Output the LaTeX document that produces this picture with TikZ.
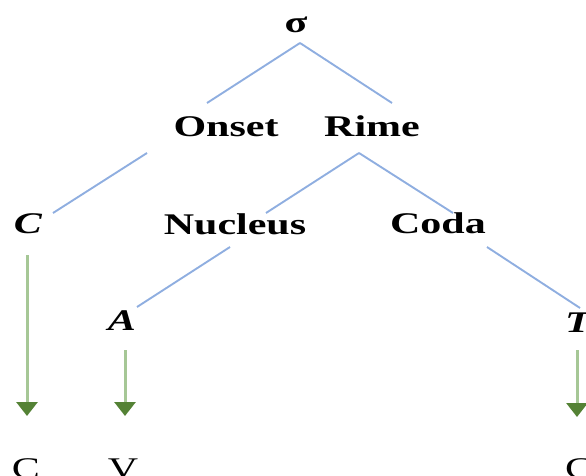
\documentclass[tikz,border=0pt]{standalone}
\usepackage{fontspec}
\usetikzlibrary{arrows.meta}
\newfontfamily\treefont{Liberation Serif}[FakeStretch=1.4]
\definecolor{branch}{HTML}{8FAEE0}
\definecolor{shaft}{HTML}{A6C796}
\definecolor{headgreen}{HTML}{548235}
\tikzset{
  lbl/.style={anchor=base, inner sep=0pt, font=\treefont\fontsize{30}{36}\selectfont\bfseries},
  seg/.style={anchor=base, inner sep=0pt, font=\treefont\fontsize{30}{36}\selectfont\bfseries\itshape},
  cvlabel/.style={anchor=base, inner sep=0pt, font=\treefont\fontsize{30}{36}\selectfont},
  branchline/.style={draw=branch, line width=1.9pt},
  maparrow/.style={draw=shaft, line width=3pt,
    -{Triangle[width=21pt,length=14pt,color=headgreen]}}
}
\begin{document}
\begin{tikzpicture}[x=1pt,y=-1pt]
\useasboundingbox (0,0) rectangle (586,476);

% syllable tree labels
\node[lbl] (sigma) at (296,33) {σ};
\node[lbl] (onset) at (226,137) {Onset};
\node[lbl] (rime) at (372,137) {Rime};
\node[lbl] (nucleus) at (235,234) {Nucleus};
\node[lbl] (coda) at (438,233) {Coda};
\node[seg] (c1) at (28,233) {C};
\node[seg] (a1) at (122,330) {A};
\node[seg] (t1) at (578,332) {T};

% CV tier
\node[cvlabel] (c2) at (26,478) {C};
\node[cvlabel] (v2) at (123,478) {V};
\node[cvlabel] (c3) at (579,478) {C};

% branch end points
\coordinate (sigma-b) at (300,43);
\coordinate (onset-t) at (207,103);
\coordinate (rime-t) at (392,103);
\coordinate (onset-b) at (147,153);
\coordinate (c1-t) at (53,213);
\coordinate (rime-b) at (359,153);
\coordinate (nucleus-t) at (266,213);
\coordinate (coda-t) at (453,213);
\coordinate (nucleus-b) at (230,247);
\coordinate (a1-t) at (137,307);
\coordinate (coda-b) at (487,247);
\coordinate (t1-t) at (580,308);

\draw[branchline] (sigma-b) -- (onset-t);
\draw[branchline] (sigma-b) -- (rime-t);
\draw[branchline] (onset-b) -- (c1-t);
\draw[branchline] (rime-b) -- (nucleus-t);
\draw[branchline] (rime-b) -- (coda-t);
\draw[branchline] (nucleus-b) -- (a1-t);
\draw[branchline] (coda-b) -- (t1-t);

% mapping arrows
\coordinate (c1-s) at (27,255);
\coordinate (c2-e) at (27,416);
\coordinate (a1-s) at (125,350);
\coordinate (v2-e) at (125,416);
\coordinate (t1-s) at (577,350);
\coordinate (c3-e) at (577,417);

\draw[maparrow] (c1-s) -- (c2-e);
\draw[maparrow] (a1-s) -- (v2-e);
\draw[maparrow] (t1-s) -- (c3-e);
\end{tikzpicture}
\end{document}
